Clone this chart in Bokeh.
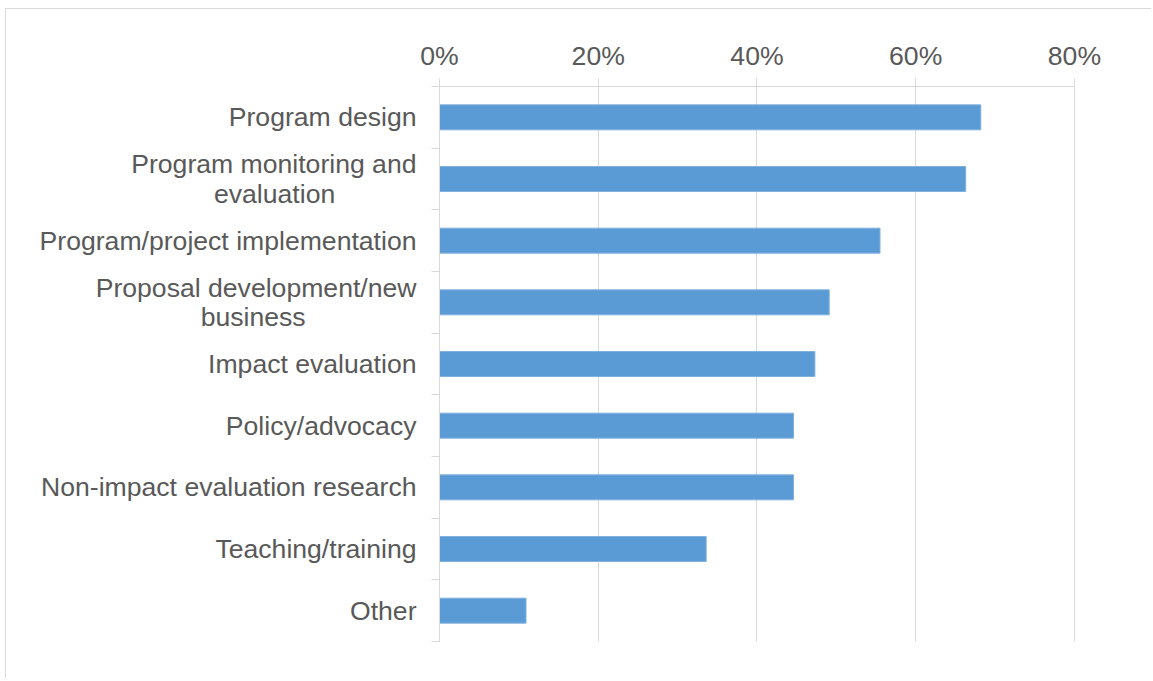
from bokeh.plotting import figure
from bokeh.models import (Range1d, LinearAxis, FixedTicker,
                          NumeralTickFormatter, ColumnDataSource)
from bokeh.embed import file_html
from bokeh.resources import INLINE

NB = "\u00a0"
categories = [
    "Program design",
    "Program monitoring and\nevaluation" + NB * 11,
    "Program/project implementation",
    "Proposal development/new\nbusiness" + NB * 15,
    "Impact evaluation",
    "Policy/advocacy",
    "Non-impact evaluation research",
    "Teaching/training",
    "Other",
]
values = [0.682, 0.663, 0.555, 0.491, 0.473, 0.446, 0.446, 0.336, 0.109]
x_ticks = [0, 0.2, 0.4, 0.6, 0.8]

FONT = "Liberation Sans"
TXT = "#595959"
GRID = "#D9D9D9"
BAR = "#5B9BD5"

n = len(categories)
pos = [n - i - 0.5 for i in range(n)]  # category slot centres, top to bottom
src = ColumnDataSource(dict(pos=pos, val=values))

p = figure(
    width=1146, height=670,
    y_range=Range1d(0, n),
    x_range=Range1d(0, 0.8026),
    x_axis_location="above", y_axis_location=None,
    output_backend="svg", toolbar_location=None,
    min_border_left=433, min_border_top=77, min_border_right=76, min_border_bottom=38,
)
p.outline_line_color = None
p.background_fill_color = "white"
p.border_fill_color = "white"
p.styles = {"border-left": "1px solid #D9D9D9", "border-top": "1px solid #D9D9D9",
            "margin-left": "5px", "margin-top": "8px"}

p.hbar(y="pos", right="val", left=0, height=0.405, source=src,
       fill_color=BAR, line_color="#7FB0DE", line_width=1)

# top x axis
xa = p.xaxis[0]
xa.ticker = FixedTicker(ticks=x_ticks)
xa.formatter = NumeralTickFormatter(format="0%")
xa.axis_line_color = GRID
xa.major_tick_line_color = GRID
xa.major_tick_out = 8
xa.major_tick_in = 0
xa.minor_tick_line_color = None
xa.major_label_text_font = FONT
xa.major_label_text_font_size = "26.6px"
xa.major_label_text_color = TXT
xa.major_label_standoff = 8
xa.bounds = (0, 0.8)

p.xgrid.ticker = FixedTicker(ticks=x_ticks)
p.xgrid.grid_line_color = GRID
p.ygrid.grid_line_color = None

# boundary tick axis (closest to the frame), ticks only
bounds = list(range(n + 1))
ta = LinearAxis(ticker=FixedTicker(ticks=bounds))
ta.major_label_overrides = {b: "" for b in bounds}
ta.axis_line_color = GRID
ta.major_tick_line_color = GRID
ta.major_tick_out = 8
ta.major_tick_in = 0
ta.minor_tick_line_color = None
ta.major_label_text_font_size = "1px"
ta.major_label_text_color = None
ta.major_label_standoff = 0
p.add_layout(ta, "left")

# category labels
ca = LinearAxis(ticker=FixedTicker(ticks=pos))
ca.major_label_overrides = {pp: c for pp, c in zip(pos, categories)}
ca.axis_line_color = None
ca.major_tick_line_color = None
ca.major_tick_out = 0
ca.major_tick_in = 0
ca.minor_tick_line_color = None
ca.major_label_text_font = FONT
ca.major_label_text_font_size = "26.6px"
ca.major_label_text_line_height = 0.98
ca.major_label_text_color = TXT
ca.major_label_standoff = 15
p.add_layout(ca, "left")

open("out.html", "w").write(file_html(p, INLINE))
